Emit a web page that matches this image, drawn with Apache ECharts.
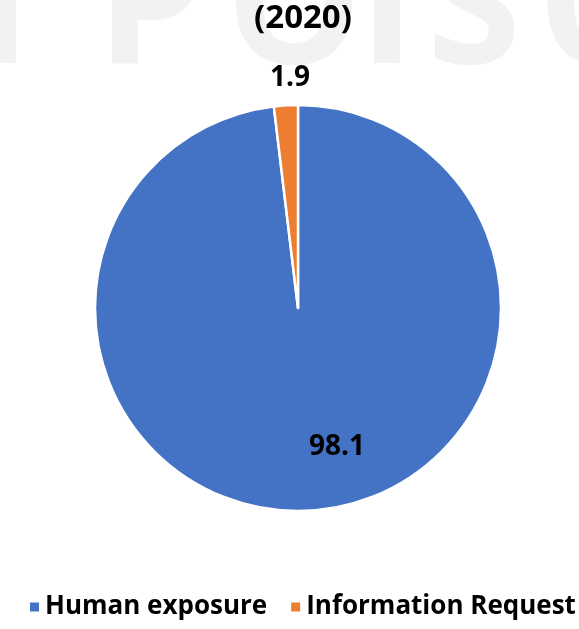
<!DOCTYPE html>
<html><head><meta charset="utf-8">
<script src="https://cdn.jsdelivr.net/npm/echarts@6/dist/echarts.min.js"></script>
<style>html,body{margin:0;padding:0;background:#fff}#c{width:579px;height:629px}</style>
</head><body><div id="c"></div>
<script>
var categories = ['Human exposure', 'Information Request'];
var values = [98.1, 1.9];
var colors = ['#4472C4', '#ED7D31'];
var titleText = '(2020)';
var watermark = [['I', 3], ['P', 150], ['O', 294], ['I', 387], ['S', 474], ['C', 592]];

var chart = echarts.init(document.getElementById('c'));
var gfx = watermark.map(function (w) {
  return { type: 'text', x: w[1], y: 15, z: -10,
    style: { text: w[0], font: 'bold 170px "Open Sans"', fill: '#f2f2f2', align: 'center', verticalAlign: 'middle' } };
});
chart.setOption({
  animation: false,
  graphic: gfx,
  title: { text: titleText, left: 298, top: -3, textAlign: 'center',
    textStyle: { fontFamily: 'Open Sans', fontWeight: 'bold', fontSize: 33, color: '#000' } },
  legend: { left: 23, top: 589, width: 2000, itemWidth: 11, itemHeight: 11, itemGap: 22,
    icon: 'rect',
    textStyle: { fontFamily: 'Open Sans', fontWeight: 'bold', fontSize: 26, color: '#000' } },
  series: [{
    type: 'pie', center: [298, 308], radius: 203, startAngle: 90, clockwise: true,
    itemStyle: { borderColor: '#fff', borderWidth: 2.5 },
    label: { show: true, formatter: '{c}', fontFamily: 'Open Sans', fontWeight: 'bold', fontSize: 28, color: '#000' },
    labelLine: { show: false },
    labelLayout: function (p) {
      if (p.dataIndex === 0) return { x: 337, y: 447, align: 'center', verticalAlign: 'middle' };
      return { x: 290, y: 78, align: 'center', verticalAlign: 'middle' };
    },
    data: categories.map(function (n, i) { return { name: n, value: values[i], itemStyle: { color: colors[i] } }; })
  }]
});
</script></body></html>
